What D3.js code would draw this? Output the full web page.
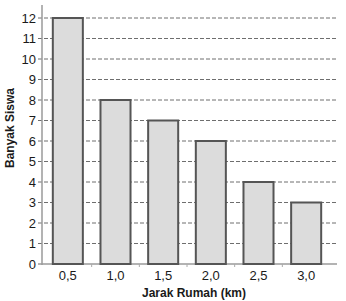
<!DOCTYPE html>
<html lang="id">
<head>
<meta charset="utf-8">
<script src="https://d3js.org/d3.v7.min.js"></script>
<style>
  body { margin: 0; background: #fff; }
  text { font-family: "Liberation Sans", Arial, sans-serif; }
</style>
</head>
<body>
<div id="chart"></div>
<script>
// data
const jarak = ["0,5", "1,0", "1,5", "2,0", "2,5", "3,0"];
const siswa = [12, 8, 7, 6, 4, 3];
const yTicks = [0, 1, 2, 3, 4, 5, 6, 7, 8, 9, 10, 11, 12];

const W = 346, H = 301;
const plotLeft = 42, plotRight = 336, plotTop = 18, plotBottom = 264;

const svg = d3.select("#chart").append("svg")
  .attr("width", W).attr("height", H);

const x = d3.scaleBand()
  .domain(jarak)
  .range([44, 330])
  .paddingInner(0.37)
  .paddingOuter(0.185);

const y = d3.scaleLinear()
  .domain([0, 12])
  .range([plotBottom, plotTop]);

// dashed gridlines + ticks
svg.append("g")
  .selectAll("line")
  .data(yTicks.filter(d => d > 0))
  .join("line")
    .attr("x1", plotLeft - 4).attr("x2", plotRight)
    .attr("y1", d => y(d)).attr("y2", d => y(d))
    .attr("stroke", "#6e6e6e")
    .attr("stroke-width", 1)
    .attr("stroke-dasharray", "4,2");

// y axis labels
svg.append("g")
  .selectAll("text")
  .data(yTicks)
  .join("text")
    .attr("x", 36)
    .attr("y", d => y(d) + 4.5)
    .attr("text-anchor", "end")
    .attr("font-size", 13)
    .attr("fill", "#1a1a1a")
    .text(d => d);

// axis lines
svg.append("line")
  .attr("x1", plotLeft).attr("x2", plotLeft)
  .attr("y1", 5).attr("y2", plotBottom + 1)
  .attr("stroke", "#9a9a9a").attr("stroke-width", 1.5);
svg.append("line")
  .attr("x1", plotLeft - 4).attr("x2", plotRight + 1)
  .attr("y1", plotBottom).attr("y2", plotBottom)
  .attr("stroke", "#9a9a9a").attr("stroke-width", 1.5);

// small x ticks between bars
const step = x.step();
svg.append("g")
  .selectAll("line")
  .data(jarak.slice(1))
  .join("line")
    .attr("x1", d => x(d) - step * x.paddingInner() / 2)
    .attr("x2", d => x(d) - step * x.paddingInner() / 2)
    .attr("y1", plotBottom).attr("y2", plotBottom + 3)
    .attr("stroke", "#aaa");

// bars
svg.append("g")
  .selectAll("rect")
  .data(siswa)
  .join("rect")
    .attr("x", (d, i) => x(jarak[i]))
    .attr("y", d => y(d))
    .attr("width", x.bandwidth())
    .attr("height", d => y(0) - y(d))
    .attr("fill", "#dcdcdc")
    .attr("stroke", "#555")
    .attr("stroke-width", 2);

// x labels
svg.append("g")
  .selectAll("text")
  .data(jarak)
  .join("text")
    .attr("x", d => x(d) + x.bandwidth() / 2)
    .attr("y", 280)
    .attr("text-anchor", "middle")
    .attr("font-size", 13)
    .attr("fill", "#1a1a1a")
    .text(d => d);

// axis titles
svg.append("text")
  .attr("x", 194).attr("y", 297)
  .attr("text-anchor", "middle")
  .attr("font-size", 12).attr("font-weight", "bold")
  .attr("fill", "#1a1a1a")
  .text("Jarak Rumah (km)");

svg.append("text")
  .attr("transform", "translate(14,128) rotate(-90)")
  .attr("text-anchor", "middle")
  .attr("font-size", 12).attr("font-weight", "bold")
  .attr("fill", "#1a1a1a")
  .text("Banyak Siswa");
</script>
</body>
</html>
